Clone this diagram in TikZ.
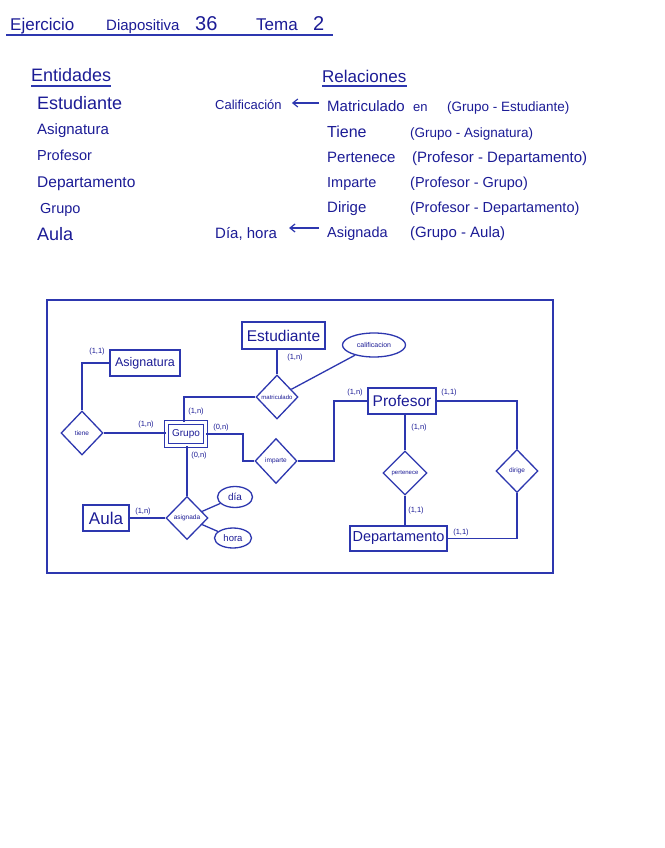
\documentclass[tikz,border=0pt]{standalone}
\usepackage{fontspec}
\setmainfont{Liberation Sans}
\usetikzlibrary{shapes.geometric,arrows.meta}
\definecolor{ink}{RGB}{28,28,150}
\definecolor{pen}{RGB}{45,55,175}
\newcommand{\fs}[1]{\fontsize{#1}{#1}\selectfont}
\tikzset{
  txt/.style={anchor=base west,inner sep=0pt,text=ink},
  ent/.style={draw=pen,line width=1.3pt,inner sep=0pt,text=ink},
  rel/.style={draw=pen,line width=1.3pt,diamond,inner sep=0pt,minimum width=42pt,minimum height=44pt},
  att/.style={draw=pen,line width=1.3pt,ellipse,inner sep=0pt,text=ink},
  card/.style={inner sep=0pt,text=ink,font=\fs{7.5}},
  conn/.style={draw=pen,line width=1.3pt},
  uline/.style={draw=pen,line width=1.2pt},
  rtxt/.style={text=ink,font=\fs{6.5}},
  larrow/.style={uline,-{Straight Barb[length=5pt,width=8pt]}}
}
\begin{document}
\begin{tikzpicture}[x=1pt,y=-1pt]
\useasboundingbox[fill=white] (0,0) rectangle (664,848);
% header
\node[txt,font=\fs{17}] (h1) at (10,31) {Ejercicio};
\node[txt,font=\fs{15}] (h2) at (106,31) {Diapositiva};
\node[txt,font=\fs{20}] (h3) at (195,31) {36};
\node[txt,font=\fs{17}] (h4) at (256,31) {Tema};
\node[txt,font=\fs{20}] (h5) at (313,31) {2};
\coordinate (u1) at (6,35);
\coordinate (u2) at (333,35);
\draw[uline] (u1) -- (u2);
% entidades
\node[txt,font=\fs{18}] (ent) at (31,82) {Entidades};
\draw[uline] ([yshift=-4pt]ent.base west) -- ([yshift=-4pt]ent.base east);
\node[txt,font=\fs{18}] (e1) at (37,110) {Estudiante};
\node[txt,font=\fs{15}] (e2) at (37,135) {Asignatura};
\node[txt,font=\fs{14.5}] (e3) at (37,160) {Profesor};
\node[txt,font=\fs{15.5}] (e4) at (37,187) {Departamento};
\node[txt,font=\fs{14.5}] (e5) at (40,213) {Grupo};
\node[txt,font=\fs{18}] (e6) at (37,240) {Aula};
% relaciones
\node[txt,font=\fs{17}] (rel) at (322,83) {Relaciones};
\draw[uline] ([yshift=-3pt]rel.base west) -- ([yshift=-3pt]rel.base east);
\node[txt,font=\fs{15}] (r1) at (327,112) {Matriculado};
\node[txt,font=\fs{13}] (r1e) at (413,112) {en};
\node[txt,font=\fs{13.5}] (r1b) at (447,112) {(Grupo - Estudiante)};
\node[txt,font=\fs{16}] (r2) at (327,137) {Tiene};
\node[txt,font=\fs{13.5}] (r2b) at (410,137) {(Grupo - Asignatura)};
\node[txt,font=\fs{15}] (r3) at (327,162) {Pertenece};
\node[txt,font=\fs{15}] (r3b) at (412,162) {(Profesor - Departamento)};
\node[txt,font=\fs{14.5}] (r4) at (327,187) {Imparte};
\node[txt,font=\fs{14.5}] (r4b) at (410,187) {(Profesor - Grupo)};
\node[txt,font=\fs{15}] (r5) at (327,212) {Dirige};
\node[txt,font=\fs{14.5}] (r5b) at (410,212) {(Profesor - Departamento)};
\node[txt,font=\fs{14.5}] (r6) at (327,237) {Asignada};
\node[txt,font=\fs{15}] (r6b) at (410,237) {(Grupo - Aula)};
% left side notes
\node[txt,font=\fs{13}] (cal0) at (215,110) {Calificación};
\node[txt,font=\fs{15}] (dh0) at (215,238) {Día, hora};
\coordinate (a1) at ([xshift=-8pt,yshift=9pt]r1.base west);
\coordinate (a2) at ([xshift=10pt]cal0.base east);
\coordinate (b1) at ([xshift=-8pt,yshift=9pt]r6.base west);
\coordinate (b2) at ([xshift=12pt]dh0.base east);
\draw[larrow] (a1) -- (a1 -| a2);
\draw[larrow] (b1) -- (b1 -| b2);
% frame
\draw[draw=pen,line width=1.5pt] (47,300) rectangle (553,573);
% entities
\node[ent,minimum width=83pt,minimum height=27pt,font=\fs{15.5}] (est) at (283.5,335.5) {Estudiante};
\node[ent,minimum width=70pt,minimum height=26pt,font=\fs{12.5}] (asi) at (145,363) {Asignatura};
\node[ent,double=white,double distance=2.5pt,minimum width=39pt,minimum height=23pt,font=\fs{10}] (grp) at (186,434) {Grupo};
\node[ent,minimum width=68pt,minimum height=26pt,font=\fs{15.5}] (pro) at (402,401) {Profesor};
\node[ent,minimum width=97pt,minimum height=25pt,font=\fs{14.5}] (dep) at (398.5,538.5) {Departamento};
\node[ent,minimum width=46pt,minimum height=26pt,font=\fs{17}] (aul) at (106,518) {Aula};
% relationships
\node[rel,label={[rtxt,font=\fs{6}]center:matriculado}] (mat) at (277,397) {};
\node[rel,minimum width=42pt,label={[rtxt]center:tiene}] (tie) at (82,433) {};
\node[rel,minimum height=45pt,label={[rtxt]center:imparte}] (imp) at (276,461) {};
\node[rel,minimum height=43pt,label={[rtxt]center:asignada}] (asg) at (187,518) {};
\node[rel,minimum width=44pt,label={[rtxt,font=\fs{6}]center:pertenece}] (per) at (405,473) {};
\node[rel,minimum height=43pt,label={[rtxt]center:dirige}] (dir) at (517,471) {};
% attributes
\node[att,minimum width=63pt,minimum height=24pt,font=\fs{7}] (cal) at (374,345) {calificacion};
\node[att,minimum width=35pt,minimum height=21pt,font=\fs{10}] (dia) at (235,497) {día};
\node[att,minimum width=37pt,minimum height=20pt,font=\fs{9.5}] (hor) at (233,538) {hora};
% helper coordinates
\coordinate (c1) at (243,450);
\coordinate (c2) at (334,430);
% connectors
\draw[conn] (mat.north) -- (mat.north |- est.south);
\draw[conn] (mat) -- (cal);
\draw[conn] (mat.west) -| ([xshift=-2pt]grp.north);
\draw[conn] (asi.west) -| (tie.north);
\draw[conn] (tie.east) -- (tie.east -| grp.west);
\draw[conn] (grp.east) -- (grp.east -| c1) -- (imp.west -| c1) -- (imp.west);
\draw[conn] (imp.east) -- (imp.east -| c2) -- (pro.west -| c2) -- (pro.west);
\draw[conn] (per.north) -- (per.north |- pro.south);
\draw[conn] (per.south) -- (per.south |- dep.north);
\draw[conn] (pro.east) -| (dir.north);
\draw[conn] (dir.south) |- (dep.east);
\draw[conn] (asg.north) -- (asg.north |- grp.south);
\draw[conn] (asg.west) -- (asg.west -| aul.east);
\draw[conn] (asg) -- (dia);
\draw[conn] (asg) -- (hor);
% cardinalities
\node[card] (k1) at (295,358) {(1,n)};
\node[card] (k2) at (196,412) {(1,n)};
\node[card] (k3) at (97,352) {(1,1)};
\node[card] (k4) at (146,425) {(1,n)};
\node[card] (k5) at (221,428) {(0,n)};
\node[card] (k6) at (199,456) {(0,n)};
\node[card] (k7) at (355,393) {(1,n)};
\node[card] (k8) at (449,393) {(1,1)};
\node[card] (k9) at (419,428) {(1,n)};
\node[card] (k10) at (416,511) {(1,1)};
\node[card] (k11) at (461,533) {(1,1)};
\node[card] (k12) at (143,512) {(1,n)};
\end{tikzpicture}
\end{document}
